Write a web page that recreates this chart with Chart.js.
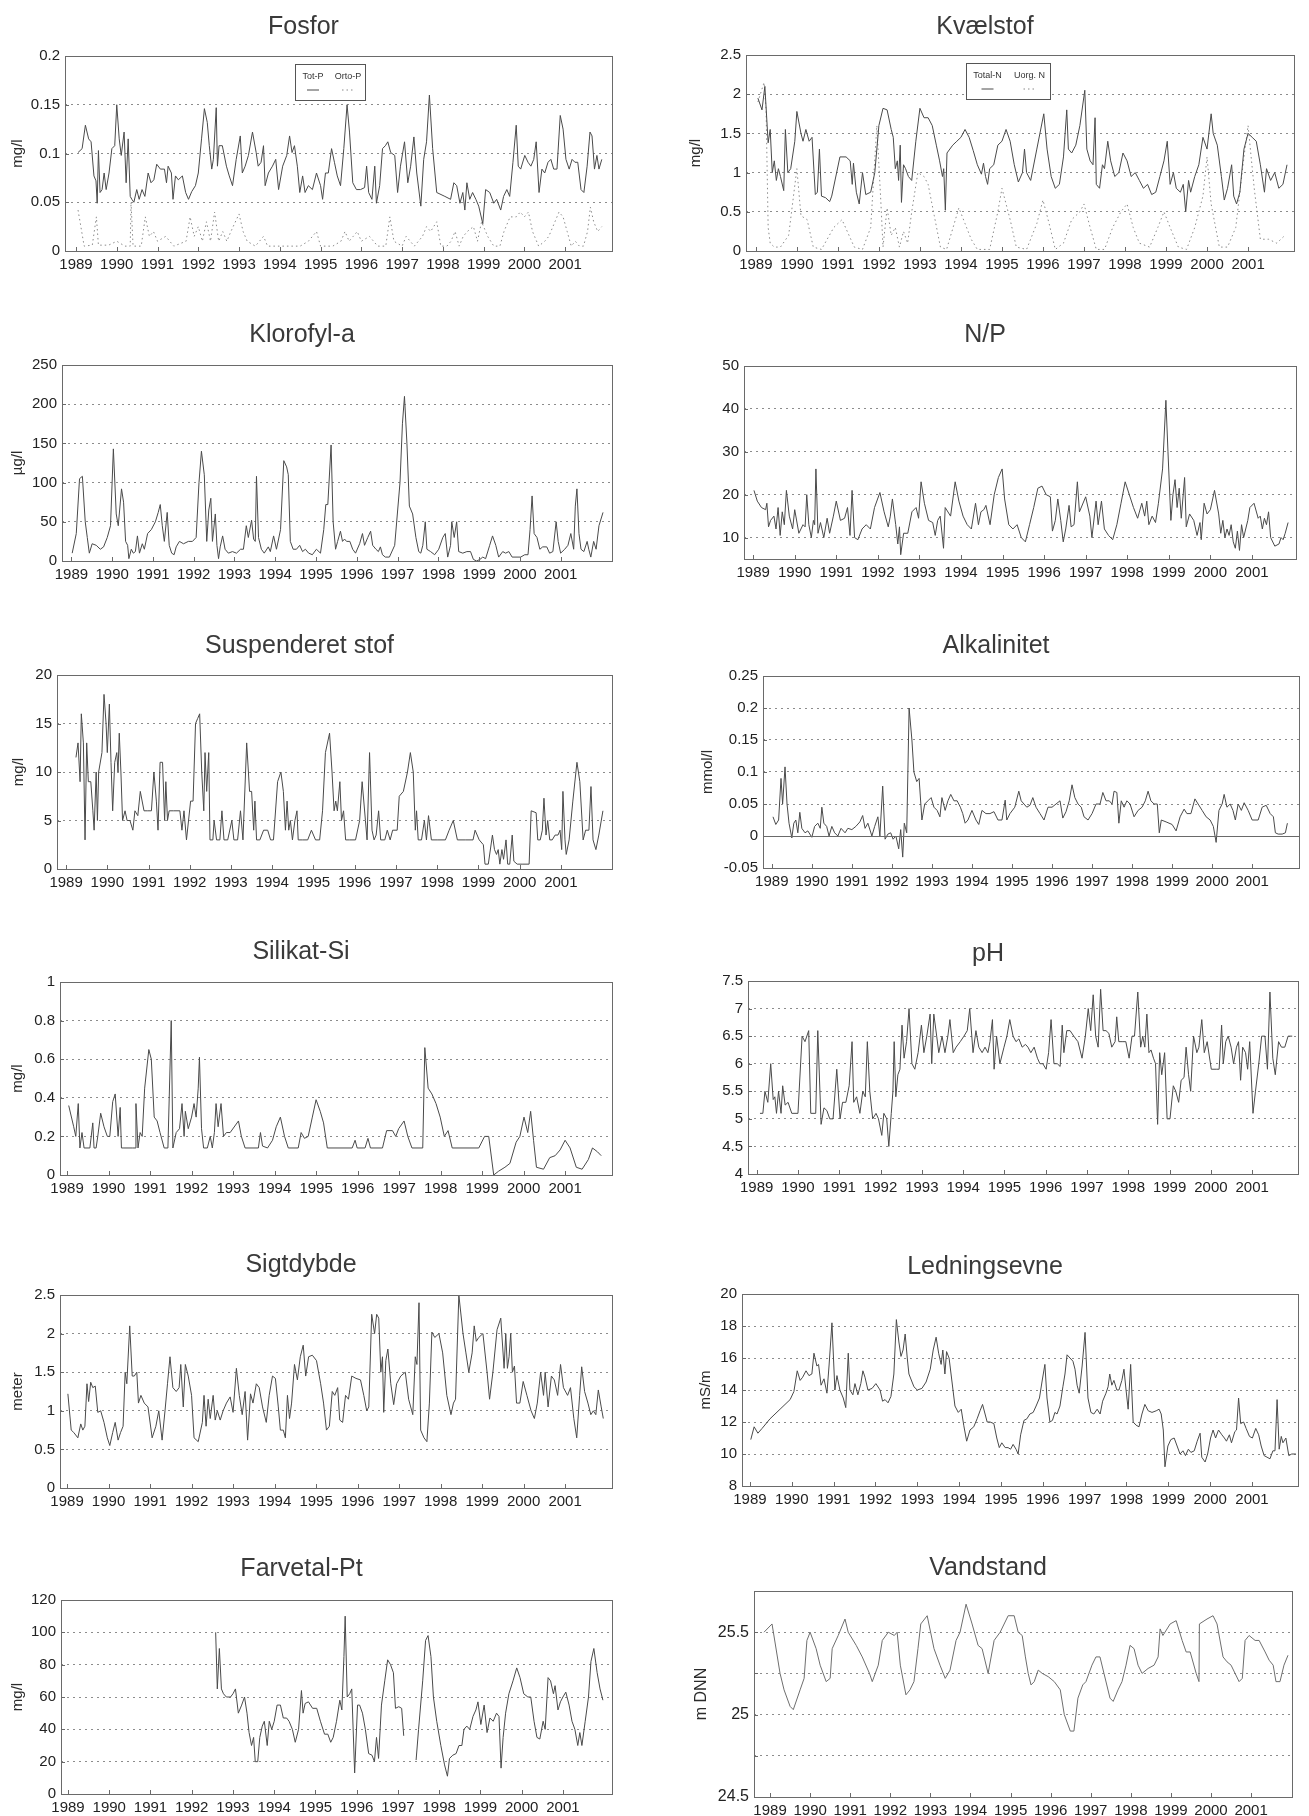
<!DOCTYPE html>
<html lang="da">
<head>
<meta charset="utf-8">
<title>Vandkemi 1989-2001</title>
<script src="https://cdn.jsdelivr.net/npm/chart.js@4.4.1/dist/chart.umd.min.js"></script>
<style>
  html, body { margin: 0; padding: 0; background: #fff; }
  #page { position: relative; width: 1309px; height: 1816px; overflow: hidden; background: #fff; }
  #page canvas { position: absolute; }
</style>
</head>
<body>
<div id="page"></div>
<script>
// Måleserier: [år (decimal), værdi]

const yearTicks = [1989, 1990, 1991, 1992, 1993, 1994, 1995, 1996, 1997, 1998, 1999, 2000, 2001];

const fosforTicks = [0, 0.05, 0.1, 0.15, 0.2];
const kvaelstofTicks = [0, 0.5, 1, 1.5, 2, 2.5];
const klorofylTicks = [0, 50, 100, 150, 200, 250];
const npTicks = [10, 20, 30, 40, 50];
const suspTicks = [0, 5, 10, 15, 20];
const alkTicks = [-0.05, 0, 0.05, 0.1, 0.15, 0.2, 0.25];
const silikatTicks = [0, 0.2, 0.4, 0.6, 0.8, 1];
const phTicks = [4, 4.5, 5, 5.5, 6, 6.5, 7, 7.5];
const sigtTicks = [0, 0.5, 1, 1.5, 2, 2.5];
const ledTicks = [8, 10, 12, 14, 16, 18, 20];
const farveTicks = [0, 20, 40, 60, 80, 100, 120];
const vandTicks = [24.5, 24.75, 25, 25.25, 25.5, 25.75];
const vandTickLabels = ['24.5', '', '25', '', '25.5', ''];

const totP = [[1989.05,0.101],[1989.15,0.105],[1989.23,0.129],[1989.31,0.115],[1989.37,0.112],[1989.44,0.077],[1989.49,0.072],[1989.52,0.049],[1989.55,0.103],[1989.59,0.06],[1989.64,0.063],[1989.69,0.08],[1989.74,0.063],[1989.81,0.08],[1989.88,0.105],[1989.95,0.108],[1990.0,0.15],[1990.06,0.115],[1990.11,0.098],[1990.18,0.122],[1990.23,0.07],[1990.28,0.115],[1990.33,0.056],[1990.37,0.053],[1990.42,0.05],[1990.49,0.063],[1990.55,0.053],[1990.62,0.063],[1990.69,0.056],[1990.77,0.08],[1990.84,0.07],[1990.91,0.073],[1990.98,0.089],[1991.07,0.084],[1991.17,0.084],[1991.22,0.07],[1991.26,0.087],[1991.34,0.08],[1991.38,0.053],[1991.44,0.077],[1991.51,0.073],[1991.61,0.077],[1991.69,0.06],[1991.76,0.053],[1991.84,0.061],[1991.93,0.067],[1992.0,0.08],[1992.08,0.115],[1992.15,0.146],[1992.22,0.132],[1992.27,0.108],[1992.33,0.084],[1992.37,0.094],[1992.44,0.147],[1992.47,0.087],[1992.51,0.108],[1992.59,0.108],[1992.69,0.087],[1992.76,0.077],[1992.84,0.067],[1992.93,0.094],[1993.03,0.118],[1993.08,0.08],[1993.15,0.087],[1993.23,0.098],[1993.33,0.122],[1993.42,0.101],[1993.47,0.087],[1993.54,0.091],[1993.6,0.108],[1993.64,0.067],[1993.72,0.08],[1993.82,0.087],[1993.9,0.094],[1993.97,0.063],[1994.07,0.087],[1994.17,0.098],[1994.24,0.118],[1994.3,0.101],[1994.36,0.108],[1994.43,0.087],[1994.49,0.06],[1994.56,0.077],[1994.62,0.06],[1994.7,0.067],[1994.8,0.063],[1994.9,0.08],[1995.0,0.067],[1995.05,0.053],[1995.12,0.08],[1995.19,0.08],[1995.27,0.105],[1995.34,0.091],[1995.41,0.077],[1995.49,0.067],[1995.57,0.105],[1995.65,0.15],[1995.71,0.122],[1995.79,0.07],[1995.88,0.063],[1995.98,0.063],[1996.08,0.065],[1996.13,0.087],[1996.18,0.06],[1996.26,0.053],[1996.33,0.087],[1996.37,0.049],[1996.45,0.067],[1996.52,0.105],[1996.59,0.108],[1996.65,0.112],[1996.72,0.101],[1996.82,0.098],[1996.89,0.06],[1996.96,0.087],[1997.06,0.112],[1997.14,0.07],[1997.21,0.087],[1997.29,0.117],[1997.36,0.08],[1997.46,0.046],[1997.53,0.094],[1997.6,0.112],[1997.67,0.16],[1997.75,0.105],[1997.85,0.06],[1998.05,0.056],[1998.19,0.053],[1998.27,0.07],[1998.34,0.067],[1998.42,0.049],[1998.49,0.06],[1998.54,0.042],[1998.59,0.07],[1998.66,0.053],[1998.73,0.06],[1998.81,0.053],[1998.88,0.046],[1998.98,0.028],[1999.05,0.063],[1999.15,0.06],[1999.25,0.049],[1999.32,0.053],[1999.42,0.042],[1999.49,0.056],[1999.57,0.063],[1999.64,0.056],[1999.72,0.091],[1999.8,0.129],[1999.85,0.087],[1999.91,0.084],[2000.01,0.098],[2000.09,0.091],[2000.16,0.087],[2000.23,0.094],[2000.29,0.112],[2000.36,0.06],[2000.43,0.084],[2000.5,0.08],[2000.58,0.091],[2000.65,0.094],[2000.72,0.084],[2000.8,0.084],[2000.88,0.139],[2000.95,0.125],[2001.02,0.094],[2001.1,0.084],[2001.17,0.094],[2001.24,0.091],[2001.31,0.091],[2001.39,0.063],[2001.46,0.06],[2001.54,0.087],[2001.61,0.122],[2001.66,0.118],[2001.72,0.084],[2001.78,0.098],[2001.83,0.084],[2001.9,0.094]];

const ortoP = [[1989.05,0.042],[1989.2,0.005],[1989.4,0.006],[1989.5,0.035],[1989.55,0.006],[1989.8,0.006],[1990.0,0.01],[1990.2,0.005],[1990.33,0.005],[1990.35,0.05],[1990.4,0.005],[1990.6,0.005],[1990.7,0.035],[1990.8,0.015],[1990.9,0.02],[1991.0,0.01],[1991.2,0.015],[1991.4,0.005],[1991.7,0.01],[1991.8,0.035],[1991.9,0.015],[1992.0,0.025],[1992.1,0.01],[1992.2,0.03],[1992.3,0.01],[1992.4,0.04],[1992.5,0.01],[1992.6,0.02],[1992.7,0.01],[1992.8,0.02],[1993.0,0.038],[1993.1,0.02],[1993.2,0.01],[1993.4,0.005],[1993.6,0.015],[1993.7,0.005],[1994.0,0.005],[1994.3,0.005],[1994.5,0.005],[1994.7,0.01],[1994.9,0.02],[1995.0,0.005],[1995.3,0.005],[1995.5,0.01],[1995.6,0.02],[1995.7,0.01],[1995.8,0.015],[1995.9,0.02],[1996.0,0.01],[1996.2,0.015],[1996.4,0.005],[1996.6,0.005],[1996.7,0.035],[1996.8,0.01],[1997.0,0.005],[1997.1,0.015],[1997.3,0.005],[1997.4,0.01],[1997.5,0.015],[1997.6,0.025],[1997.7,0.02],[1997.85,0.03],[1997.95,0.005],[1998.1,0.005],[1998.2,0.01],[1998.3,0.02],[1998.4,0.005],[1998.5,0.015],[1998.6,0.02],[1998.75,0.025],[1998.85,0.01],[1998.95,0.03],[1999.1,0.015],[1999.25,0.005],[1999.4,0.005],[1999.5,0.02],[1999.65,0.035],[1999.8,0.035],[1999.9,0.04],[2000.0,0.035],[2000.1,0.04],[2000.2,0.02],[2000.35,0.005],[2000.5,0.01],[2000.6,0.015],[2000.75,0.03],[2000.85,0.04],[2000.95,0.035],[2001.05,0.02],[2001.15,0.005],[2001.25,0.01],[2001.35,0.005],[2001.45,0.005],[2001.55,0.02],[2001.62,0.045],[2001.7,0.03],[2001.8,0.02],[2001.9,0.025]];

const totalN = [[1989.05,1.95],[1989.15,1.8],[1989.22,2.1],[1989.3,1.38],[1989.35,1.55],[1989.4,1.0],[1989.45,1.15],[1989.5,0.9],[1989.55,1.05],[1989.6,0.95],[1989.68,0.77],[1989.72,1.55],[1989.78,1.0],[1989.85,1.05],[1989.95,1.4],[1990.0,1.78],[1990.1,1.5],[1990.15,1.4],[1990.22,1.55],[1990.3,1.4],[1990.37,1.45],[1990.45,0.72],[1990.5,0.75],[1990.55,1.3],[1990.6,0.7],[1990.7,0.68],[1990.8,0.63],[1990.85,0.7],[1991.05,1.2],[1991.2,1.2],[1991.3,1.15],[1991.35,0.85],[1991.38,1.12],[1991.45,0.75],[1991.52,0.6],[1991.6,1.0],[1991.68,0.72],[1991.8,0.75],[1991.9,1.0],[1992.0,1.6],[1992.1,1.82],[1992.2,1.8],[1992.3,1.55],[1992.35,1.45],[1992.4,1.05],[1992.45,1.15],[1992.48,0.9],[1992.52,1.35],[1992.55,0.62],[1992.6,1.1],[1992.65,1.05],[1992.72,0.95],[1992.8,0.9],[1992.9,1.4],[1993.0,1.82],[1993.1,1.7],[1993.2,1.7],[1993.3,1.6],[1993.4,1.35],[1993.48,1.15],[1993.55,0.95],[1993.58,1.05],[1993.62,0.52],[1993.66,1.25],[1993.8,1.35],[1993.9,1.4],[1994.0,1.45],[1994.1,1.55],[1994.2,1.45],[1994.3,1.28],[1994.4,1.1],[1994.5,0.98],[1994.55,1.12],[1994.6,0.95],[1994.65,0.85],[1994.7,1.05],[1994.8,1.1],[1994.9,1.35],[1995.0,1.4],[1995.1,1.55],[1995.2,1.4],[1995.3,1.1],[1995.4,0.88],[1995.5,1.0],[1995.55,1.3],[1995.6,1.0],[1995.7,0.9],[1995.85,1.3],[1996.02,1.75],[1996.1,1.3],[1996.2,0.95],[1996.3,0.8],[1996.4,0.85],[1996.5,1.2],[1996.58,1.8],[1996.62,1.3],[1996.7,1.25],[1996.8,1.35],[1996.9,1.6],[1997.02,2.05],[1997.07,1.3],[1997.15,1.15],[1997.22,1.1],[1997.27,1.7],[1997.3,0.85],[1997.38,0.8],[1997.45,1.1],[1997.5,1.05],[1997.58,1.4],[1997.65,1.15],[1997.75,0.95],[1997.85,1.0],[1997.95,1.25],[1998.05,1.15],[1998.15,0.95],[1998.25,1.0],[1998.35,0.9],[1998.45,0.8],[1998.55,0.85],[1998.65,0.72],[1998.75,0.75],[1998.85,0.95],[1998.95,1.15],[1999.03,1.4],[1999.1,0.85],[1999.18,1.0],[1999.25,0.8],[1999.35,0.75],[1999.42,0.85],[1999.48,0.5],[1999.55,0.9],[1999.6,0.75],[1999.7,0.95],[1999.8,1.1],[1999.9,1.45],[2000.0,1.3],[2000.1,1.75],[2000.15,1.5],[2000.25,1.35],[2000.35,0.95],[2000.42,0.65],[2000.5,0.8],[2000.6,1.1],[2000.65,0.7],[2000.72,0.6],[2000.8,0.75],[2000.9,1.3],[2001.0,1.5],[2001.1,1.45],[2001.2,1.4],[2001.3,1.1],[2001.4,0.75],[2001.45,1.05],[2001.55,0.9],[2001.65,1.0],[2001.75,0.8],[2001.85,0.85],[2001.95,1.1]];

const uorgN = [[1989.05,1.9],[1989.2,2.15],[1989.25,1.8],[1989.3,0.3],[1989.35,0.1],[1989.45,0.05],[1989.6,0.05],[1989.8,0.2],[1990.0,1.05],[1990.1,0.45],[1990.25,0.4],[1990.4,0.05],[1990.6,0.02],[1990.9,0.3],[1991.1,0.4],[1991.4,0.05],[1991.6,0.02],[1991.8,0.3],[1991.95,1.6],[1992.05,0.6],[1992.1,0.05],[1992.2,0.55],[1992.3,0.2],[1992.4,0.3],[1992.5,0.05],[1992.6,0.25],[1992.7,0.1],[1992.8,0.5],[1992.95,1.0],[1993.1,0.95],[1993.2,0.85],[1993.35,0.45],[1993.5,0.05],[1993.65,0.02],[1993.95,0.55],[1994.1,0.35],[1994.25,0.15],[1994.4,0.02],[1994.7,0.02],[1994.9,0.5],[1995.0,0.8],[1995.2,0.4],[1995.35,0.05],[1995.6,0.02],[1995.85,0.35],[1996.0,0.65],[1996.15,0.35],[1996.3,0.02],[1996.5,0.1],[1996.7,0.4],[1996.9,0.5],[1997.0,0.6],[1997.15,0.3],[1997.3,0.02],[1997.5,0.02],[1997.7,0.3],[1997.9,0.5],[1998.05,0.6],[1998.2,0.3],[1998.35,0.1],[1998.6,0.05],[1998.8,0.3],[1998.95,0.5],[1999.1,0.3],[1999.3,0.05],[1999.5,0.02],[1999.7,0.3],[1999.9,0.7],[2000.0,1.2],[2000.1,0.6],[2000.3,0.05],[2000.5,0.05],[2000.7,0.3],[2000.9,1.2],[2001.0,1.6],[2001.15,0.8],[2001.3,0.15],[2001.5,0.15],[2001.7,0.1],[2001.9,0.2]];

const klorofyl = [[1989.02,10],[1989.12,35],[1989.2,105],[1989.27,108],[1989.34,50],[1989.39,30],[1989.44,10],[1989.51,22],[1989.61,20],[1989.71,15],[1989.79,18],[1989.88,30],[1989.96,45],[1990.03,143],[1990.1,60],[1990.15,45],[1990.23,92],[1990.28,75],[1990.33,25],[1990.38,20],[1990.41,3],[1990.47,15],[1990.52,10],[1990.57,12],[1990.62,32],[1990.67,10],[1990.74,22],[1990.79,15],[1990.87,35],[1990.96,40],[1991.06,50],[1991.13,62],[1991.18,72],[1991.23,45],[1991.28,25],[1991.35,62],[1991.4,20],[1991.46,10],[1991.52,8],[1991.57,18],[1991.65,25],[1991.75,22],[1991.87,25],[1991.97,25],[1992.06,30],[1992.13,100],[1992.19,140],[1992.26,110],[1992.32,25],[1992.37,65],[1992.42,80],[1992.46,25],[1992.53,60],[1992.57,20],[1992.61,3],[1992.65,18],[1992.71,32],[1992.77,15],[1992.85,10],[1992.95,12],[1993.05,10],[1993.15,15],[1993.22,15],[1993.29,45],[1993.34,30],[1993.42,52],[1993.47,28],[1993.51,25],[1993.54,108],[1993.59,30],[1993.66,15],[1993.73,10],[1993.83,18],[1993.88,12],[1993.96,32],[1994.03,15],[1994.13,40],[1994.21,128],[1994.28,120],[1994.32,110],[1994.37,25],[1994.44,15],[1994.52,15],[1994.6,20],[1994.67,12],[1994.74,15],[1994.82,10],[1994.91,8],[1995.01,15],[1995.11,10],[1995.19,40],[1995.24,72],[1995.29,72],[1995.37,148],[1995.42,50],[1995.48,15],[1995.53,25],[1995.6,38],[1995.65,25],[1995.7,28],[1995.75,25],[1995.83,25],[1995.9,15],[1995.97,10],[1996.07,22],[1996.14,35],[1996.19,20],[1996.27,30],[1996.34,38],[1996.39,20],[1996.47,15],[1996.53,12],[1996.58,18],[1996.63,8],[1996.7,5],[1996.8,5],[1996.93,20],[1997.06,100],[1997.12,175],[1997.17,210],[1997.23,150],[1997.29,70],[1997.37,60],[1997.45,30],[1997.52,12],[1997.57,10],[1997.62,20],[1997.68,50],[1997.72,15],[1997.81,12],[1997.91,8],[1998.01,15],[1998.11,30],[1998.17,35],[1998.23,5],[1998.3,20],[1998.33,50],[1998.39,30],[1998.45,50],[1998.5,12],[1998.6,10],[1998.7,12],[1998.79,12],[1998.86,2],[1998.94,0],[1999.02,2],[1999.09,5],[1999.16,3],[1999.26,20],[1999.33,32],[1999.41,20],[1999.48,5],[1999.58,12],[1999.65,10],[1999.73,12],[1999.81,5],[1999.93,5],[2000.02,5],[2000.12,8],[2000.2,8],[2000.25,40],[2000.3,83],[2000.35,35],[2000.42,30],[2000.49,15],[2000.56,18],[2000.66,18],[2000.73,10],[2000.81,12],[2000.89,50],[2000.94,25],[2001.0,10],[2001.1,15],[2001.18,20],[2001.25,35],[2001.32,15],[2001.36,70],[2001.4,92],[2001.45,35],[2001.5,15],[2001.57,12],[2001.65,25],[2001.69,15],[2001.74,5],[2001.81,25],[2001.87,15],[2001.94,45],[2002.04,62]];

const npRatio = [[1989.02,21],[1989.1,18.5],[1989.2,17],[1989.3,16.5],[1989.33,18],[1989.37,12.5],[1989.42,14],[1989.5,15],[1989.55,12],[1989.6,17],[1989.65,10.5],[1989.7,16],[1989.75,13],[1989.8,21],[1989.87,15],[1989.95,12],[1990.0,16.5],[1990.1,11],[1990.2,13],[1990.25,12.5],[1990.29,20],[1990.34,13],[1990.4,10],[1990.45,14],[1990.48,13],[1990.51,26],[1990.56,11],[1990.62,13.5],[1990.7,10],[1990.78,14.5],[1990.84,11],[1990.93,15],[1991.0,18.5],[1991.1,14],[1991.2,14.5],[1991.27,17],[1991.33,10.5],[1991.38,21],[1991.44,10],[1991.52,9.5],[1991.62,12],[1991.72,13],[1991.82,12],[1991.92,17],[1992.05,20.5],[1992.15,16],[1992.25,12.5],[1992.3,15],[1992.35,19],[1992.43,13],[1992.48,8.5],[1992.52,12.5],[1992.55,6],[1992.62,11],[1992.72,11],[1992.82,16],[1992.92,17],[1992.98,14.5],[1993.04,23],[1993.12,18],[1993.22,14],[1993.32,13.5],[1993.38,10.5],[1993.44,14],[1993.5,15],[1993.58,7.5],[1993.62,17],[1993.75,15],[1993.86,23],[1993.95,18.5],[1994.05,15],[1994.15,13],[1994.25,12],[1994.35,18],[1994.42,13],[1994.48,16],[1994.55,16.5],[1994.6,17.5],[1994.7,13],[1994.8,20],[1994.9,24],[1994.99,26],[1995.05,19],[1995.15,13],[1995.25,12],[1995.35,13],[1995.45,10],[1995.55,9],[1995.65,13],[1995.75,17],[1995.85,21.5],[1995.95,22],[1996.05,20],[1996.15,19.5],[1996.2,11.5],[1996.27,14],[1996.33,19],[1996.4,14],[1996.46,9],[1996.52,12],[1996.6,17.5],[1996.65,12.5],[1996.72,13],[1996.8,23],[1996.85,16],[1997.0,19.5],[1997.1,15],[1997.15,10],[1997.25,18.5],[1997.3,13],[1997.38,18.5],[1997.45,12],[1997.55,10.5],[1997.65,9.5],[1997.75,13],[1997.85,18],[1997.95,23],[1998.05,20],[1998.15,17],[1998.25,14.5],[1998.35,18],[1998.42,15],[1998.47,18.5],[1998.52,13],[1998.6,15],[1998.68,13.5],[1998.75,18],[1998.85,26],[1998.93,42],[1998.98,30],[1999.05,14],[1999.1,20],[1999.15,23.5],[1999.2,17],[1999.25,21.5],[1999.3,14.5],[1999.38,24],[1999.42,12.5],[1999.5,15.5],[1999.6,14],[1999.68,10.5],[1999.75,13.5],[1999.78,9.5],[1999.85,18],[1999.92,15.5],[2000.0,16.5],[2000.1,21],[2000.2,15.5],[2000.25,11],[2000.3,14],[2000.35,10],[2000.4,12],[2000.45,10.5],[2000.5,13],[2000.55,9],[2000.6,7.5],[2000.65,11.5],[2000.7,7],[2000.75,13],[2000.8,10],[2000.9,14],[2000.95,17],[2001.05,18],[2001.15,14.5],[2001.2,15],[2001.25,12],[2001.3,14.5],[2001.35,13],[2001.4,16],[2001.45,10],[2001.55,8],[2001.65,8.5],[2001.7,10],[2001.75,9.5],[2001.8,11],[2001.87,13.5]];

const suspStof = [[1989.24,11.5],[1989.29,13],[1989.34,9],[1989.37,16],[1989.42,13],[1989.46,3],[1989.5,13],[1989.54,9],[1989.6,9],[1989.65,6],[1989.68,4],[1989.73,10],[1989.76,5],[1989.79,10],[1989.87,12],[1989.92,18],[1989.97,15],[1990.0,12],[1990.05,17],[1990.09,11],[1990.13,6],[1990.18,11],[1990.23,12],[1990.26,10],[1990.29,14],[1990.33,10],[1990.37,5],[1990.43,6],[1990.48,5],[1990.55,5],[1990.62,4],[1990.67,6],[1990.74,5.5],[1990.8,8],[1990.89,6],[1990.98,6],[1991.07,6],[1991.13,10],[1991.19,7],[1991.23,4],[1991.28,11],[1991.34,11],[1991.39,5],[1991.42,9],[1991.46,5],[1991.5,6],[1991.61,6],[1991.76,6],[1991.81,4],[1991.86,6],[1991.92,3],[1992.02,7],[1992.08,7],[1992.14,15],[1992.19,15.5],[1992.24,16],[1992.29,10],[1992.34,6],[1992.37,12],[1992.41,8],[1992.46,12],[1992.49,3],[1992.56,3],[1992.59,5],[1992.65,3],[1992.73,3],[1992.78,6],[1992.83,3],[1992.92,3],[1993.02,5],[1993.07,3],[1993.16,3],[1993.23,6],[1993.29,3],[1993.38,13],[1993.45,8],[1993.5,8],[1993.55,4],[1993.58,7],[1993.62,3],[1993.7,3],[1993.79,4],[1993.89,4],[1993.96,3],[1994.03,3],[1994.13,9],[1994.21,10],[1994.27,8],[1994.32,4],[1994.36,7],[1994.4,4],[1994.44,5],[1994.49,3],[1994.55,5],[1994.6,6],[1994.63,3],[1994.73,3],[1994.86,3],[1994.95,4],[1995.05,3],[1995.15,3],[1995.22,6],[1995.29,12],[1995.39,14],[1995.45,10],[1995.5,6],[1995.54,7],[1995.58,6],[1995.64,9],[1995.68,5],[1995.73,6],[1995.78,3],[1995.87,3],[1996.02,3],[1996.12,5],[1996.18,9],[1996.26,5],[1996.3,3],[1996.36,12],[1996.42,4],[1996.47,3],[1996.52,3.5],[1996.58,6],[1996.63,3],[1996.73,3],[1996.79,4],[1996.86,3],[1996.92,4],[1997.03,4],[1997.08,7.5],[1997.18,8],[1997.28,10],[1997.35,12],[1997.42,10],[1997.47,4],[1997.5,6],[1997.54,3],[1997.62,3],[1997.69,5],[1997.74,3],[1997.79,5.5],[1997.86,3],[1998.0,3],[1998.2,3],[1998.29,4],[1998.39,5],[1998.49,3],[1998.68,3],[1998.87,3],[1998.92,4],[1999.02,3],[1999.12,2.5],[1999.16,0.5],[1999.24,0.5],[1999.34,3.5],[1999.39,2],[1999.44,1.5],[1999.48,2],[1999.52,0.5],[1999.57,2],[1999.61,1],[1999.67,3],[1999.71,0.5],[1999.76,0.5],[1999.82,3.5],[1999.86,0.8],[1999.94,0.5],[2000.08,0.5],[2000.23,0.5],[2000.28,6],[2000.4,5.8],[2000.44,3],[2000.5,3],[2000.55,4],[2000.59,7.3],[2000.64,3.5],[2000.68,5],[2000.73,3],[2000.79,3],[2000.86,3.5],[2000.93,3.5],[2000.98,4],[2001.02,2],[2001.05,8],[2001.1,3],[2001.13,1.5],[2001.2,3],[2001.29,7],[2001.39,11],[2001.46,9],[2001.54,3],[2001.6,4],[2001.68,4],[2001.73,8.5],[2001.78,3],[2001.85,2],[2001.92,3.5],[2002.02,6]];

const alkalinitet = [[1989.03,0.03],[1989.1,0.018],[1989.17,0.025],[1989.23,0.09],[1989.27,0.05],[1989.33,0.108],[1989.38,0.05],[1989.43,0.02],[1989.5,-0.003],[1989.55,0.02],[1989.6,0.025],[1989.65,0.005],[1989.7,0.037],[1989.75,0.012],[1989.83,0.005],[1989.9,0.008],[1990.0,-0.002],[1990.07,0.015],[1990.15,0.02],[1990.21,0.012],[1990.25,0.045],[1990.3,0.02],[1990.37,0.015],[1990.43,0.0],[1990.5,0.015],[1990.57,0.005],[1990.65,0.0],[1990.73,0.012],[1990.83,0.005],[1990.9,0.012],[1991.0,0.01],[1991.1,0.015],[1991.2,0.022],[1991.27,0.032],[1991.33,0.012],[1991.4,0.02],[1991.5,0.0],[1991.57,0.015],[1991.65,0.03],[1991.7,0.0],[1991.77,0.078],[1991.83,-0.005],[1991.9,0.003],[1991.97,0.005],[1992.03,-0.005],[1992.1,0.0],[1992.17,-0.02],[1992.22,0.01],[1992.27,-0.033],[1992.31,0.02],[1992.37,0.005],[1992.43,0.2],[1992.5,0.15],[1992.55,0.1],[1992.62,0.085],[1992.68,0.09],[1992.75,0.025],[1992.82,0.05],[1992.9,0.055],[1992.98,0.06],[1993.05,0.045],[1993.13,0.04],[1993.2,0.03],[1993.25,0.06],[1993.33,0.04],[1993.4,0.055],[1993.47,0.065],[1993.55,0.055],[1993.63,0.055],[1993.71,0.045],[1993.77,0.035],[1993.83,0.02],[1993.9,0.025],[1994.0,0.04],[1994.1,0.025],[1994.17,0.018],[1994.25,0.04],[1994.35,0.035],[1994.45,0.035],[1994.55,0.038],[1994.65,0.025],[1994.75,0.025],[1994.83,0.056],[1994.87,0.025],[1994.95,0.035],[1995.07,0.045],[1995.17,0.07],[1995.23,0.055],[1995.3,0.05],[1995.37,0.045],[1995.45,0.048],[1995.52,0.06],[1995.6,0.045],[1995.7,0.035],[1995.8,0.025],[1995.9,0.045],[1996.0,0.045],[1996.1,0.05],[1996.2,0.055],[1996.27,0.028],[1996.35,0.038],[1996.43,0.055],[1996.5,0.08],[1996.57,0.06],[1996.65,0.05],[1996.73,0.045],[1996.8,0.03],[1996.9,0.025],[1997.0,0.035],[1997.1,0.05],[1997.2,0.05],[1997.27,0.068],[1997.35,0.055],[1997.43,0.055],[1997.5,0.05],[1997.55,0.07],[1997.62,0.068],[1997.67,0.02],[1997.73,0.055],[1997.8,0.045],[1997.87,0.055],[1997.95,0.05],[1998.05,0.03],[1998.15,0.04],[1998.25,0.045],[1998.33,0.055],[1998.4,0.07],[1998.47,0.055],[1998.55,0.05],[1998.63,0.05],[1998.68,0.005],[1998.73,0.025],[1998.85,0.022],[1999.0,0.018],[1999.1,0.008],[1999.2,0.03],[1999.3,0.042],[1999.37,0.035],[1999.47,0.035],[1999.57,0.058],[1999.65,0.05],[1999.75,0.04],[1999.85,0.03],[1999.95,0.025],[2000.03,0.015],[2000.1,-0.01],[2000.17,0.04],[2000.25,0.05],[2000.3,0.065],[2000.37,0.045],[2000.45,0.05],[2000.52,0.04],[2000.58,0.025],[2000.65,0.05],[2000.73,0.04],[2000.8,0.052],[2000.9,0.04],[2001.0,0.025],[2001.15,0.025],[2001.25,0.045],[2001.35,0.048],[2001.45,0.035],[2001.53,0.03],[2001.58,0.005],[2001.65,0.003],[2001.75,0.003],[2001.83,0.005],[2001.88,0.02]];

const silikat = [[1989.04,0.36],[1989.16,0.25],[1989.21,0.2],[1989.27,0.37],[1989.31,0.14],[1989.36,0.22],[1989.41,0.14],[1989.55,0.14],[1989.62,0.27],[1989.65,0.14],[1989.7,0.14],[1989.74,0.2],[1989.81,0.32],[1989.89,0.25],[1989.97,0.2],[1990.03,0.2],[1990.1,0.38],[1990.16,0.42],[1990.23,0.2],[1990.28,0.35],[1990.31,0.14],[1990.37,0.14],[1990.57,0.14],[1990.64,0.14],[1990.66,0.37],[1990.71,0.14],[1990.76,0.22],[1990.81,0.2],[1990.87,0.45],[1990.97,0.65],[1991.03,0.6],[1991.1,0.3],[1991.17,0.28],[1991.24,0.22],[1991.34,0.14],[1991.43,0.14],[1991.51,0.8],[1991.55,0.14],[1991.63,0.22],[1991.71,0.24],[1991.77,0.37],[1991.82,0.2],[1991.85,0.33],[1991.92,0.24],[1992.0,0.3],[1992.06,0.37],[1992.11,0.3],[1992.16,0.45],[1992.19,0.61],[1992.24,0.24],[1992.29,0.14],[1992.38,0.14],[1992.45,0.2],[1992.5,0.14],[1992.55,0.22],[1992.59,0.37],[1992.64,0.25],[1992.71,0.37],[1992.77,0.2],[1992.84,0.22],[1992.93,0.22],[1993.13,0.28],[1993.2,0.2],[1993.29,0.14],[1993.61,0.14],[1993.66,0.22],[1993.71,0.15],[1993.83,0.14],[1993.95,0.18],[1994.04,0.25],[1994.14,0.3],[1994.24,0.2],[1994.33,0.14],[1994.57,0.14],[1994.64,0.22],[1994.72,0.19],[1994.81,0.2],[1994.91,0.3],[1995.0,0.39],[1995.1,0.33],[1995.18,0.27],[1995.27,0.14],[1995.87,0.14],[1995.94,0.18],[1995.99,0.14],[1996.18,0.14],[1996.25,0.19],[1996.31,0.14],[1996.6,0.14],[1996.7,0.23],[1996.84,0.23],[1996.92,0.2],[1996.99,0.24],[1997.12,0.28],[1997.21,0.2],[1997.31,0.14],[1997.57,0.14],[1997.62,0.66],[1997.7,0.45],[1997.79,0.42],[1997.89,0.37],[1997.99,0.3],[1998.09,0.2],[1998.18,0.23],[1998.28,0.14],[1998.92,0.14],[1999.06,0.2],[1999.16,0.2],[1999.28,0.0],[1999.4,0.02],[1999.55,0.04],[1999.67,0.06],[1999.82,0.17],[1999.91,0.2],[2000.01,0.3],[2000.1,0.22],[2000.17,0.33],[2000.24,0.18],[2000.31,0.04],[2000.48,0.03],[2000.63,0.09],[2000.76,0.1],[2000.88,0.13],[2001.0,0.18],[2001.12,0.14],[2001.27,0.04],[2001.41,0.03],[2001.56,0.08],[2001.66,0.14],[2001.78,0.12],[2001.87,0.1]];

const ph = [[1989.08,5.1],[1989.15,5.1],[1989.2,5.5],[1989.27,5.3],[1989.34,6.0],[1989.4,5.35],[1989.44,5.4],[1989.48,5.1],[1989.53,5.5],[1989.59,5.1],[1989.63,5.6],[1989.69,5.25],[1989.76,5.3],[1989.85,5.1],[1990.0,5.1],[1990.1,6.5],[1990.17,6.4],[1990.26,6.6],[1990.31,5.1],[1990.43,5.1],[1990.48,6.6],[1990.56,4.9],[1990.63,5.2],[1990.7,5.15],[1990.77,5.0],[1990.85,5.0],[1990.94,5.9],[1991.02,5.0],[1991.08,5.3],[1991.16,5.3],[1991.24,5.6],[1991.31,6.4],[1991.35,5.3],[1991.42,5.4],[1991.5,5.1],[1991.57,5.5],[1991.63,5.4],[1991.68,6.4],[1991.74,5.5],[1991.81,5.0],[1991.89,5.1],[1991.95,5.0],[1992.03,4.7],[1992.08,5.1],[1992.15,5.0],[1992.2,4.5],[1992.26,5.1],[1992.3,5.5],[1992.33,6.4],[1992.37,5.4],[1992.42,5.8],[1992.47,5.9],[1992.52,6.7],[1992.57,6.1],[1992.63,6.4],[1992.69,7.0],[1992.76,6.0],[1992.83,5.9],[1992.91,6.2],[1992.99,6.7],[1993.05,6.2],[1993.12,6.5],[1993.2,6.9],[1993.24,6.0],[1993.29,6.9],[1993.36,6.5],[1993.41,6.2],[1993.49,6.5],[1993.56,6.2],[1993.63,6.5],[1993.68,6.8],[1993.76,6.2],[1993.83,6.3],[1993.93,6.4],[1994.02,6.5],[1994.1,6.6],[1994.16,7.0],[1994.24,6.2],[1994.31,6.6],[1994.38,6.3],[1994.46,6.2],[1994.53,6.3],[1994.6,6.2],[1994.65,6.4],[1994.71,6.8],[1994.75,5.9],[1994.81,6.5],[1994.89,6.0],[1994.99,6.3],[1995.06,6.5],[1995.13,6.8],[1995.21,6.5],[1995.28,6.4],[1995.35,6.45],[1995.43,6.3],[1995.51,6.35],[1995.57,6.3],[1995.64,6.2],[1995.72,6.3],[1995.8,6.1],[1995.86,6.0],[1995.93,6.0],[1996.01,5.9],[1996.07,6.2],[1996.13,6.8],[1996.2,6.0],[1996.28,6.0],[1996.35,5.95],[1996.4,6.7],[1996.44,6.2],[1996.51,6.6],[1996.59,6.6],[1996.68,6.5],[1996.78,6.4],[1996.88,6.1],[1996.96,6.5],[1997.03,7.0],[1997.09,6.6],[1997.15,7.25],[1997.21,6.5],[1997.27,6.3],[1997.33,7.35],[1997.39,6.6],[1997.46,6.6],[1997.53,6.55],[1997.6,6.3],[1997.68,6.4],[1997.72,6.85],[1997.77,6.4],[1997.85,6.4],[1997.94,6.4],[1998.02,6.1],[1998.09,6.5],[1998.15,6.5],[1998.23,7.3],[1998.3,6.3],[1998.35,6.5],[1998.4,6.3],[1998.45,6.9],[1998.5,6.2],[1998.55,6.25],[1998.61,6.1],[1998.66,6.0],[1998.71,4.9],[1998.76,6.2],[1998.81,5.8],[1998.88,6.2],[1998.94,5.0],[1999.01,5.0],[1999.09,5.6],[1999.15,5.5],[1999.22,5.3],[1999.28,5.7],[1999.35,5.75],[1999.4,6.3],[1999.46,5.8],[1999.51,5.5],[1999.58,6.5],[1999.66,6.2],[1999.71,6.3],[1999.78,6.8],[1999.84,6.2],[1999.91,6.4],[2000.01,5.9],[2000.13,5.9],[2000.2,5.9],[2000.26,6.7],[2000.3,6.0],[2000.36,6.4],[2000.42,6.5],[2000.49,6.3],[2000.55,6.0],[2000.62,6.3],[2000.67,6.4],[2000.72,5.7],[2000.77,6.3],[2000.84,6.2],[2000.89,5.9],[2000.94,6.4],[2001.02,5.1],[2001.08,5.5],[2001.16,6.0],[2001.23,6.5],[2001.31,6.5],[2001.37,5.9],[2001.43,7.3],[2001.5,6.1],[2001.56,5.8],[2001.64,6.4],[2001.71,6.3],[2001.79,6.3],[2001.87,6.5],[2001.97,6.5]];

const sigtdybde = [[1989.02,1.22],[1989.1,0.75],[1989.16,0.72],[1989.26,0.65],[1989.33,0.83],[1989.38,0.75],[1989.43,0.8],[1989.48,1.35],[1989.52,1.12],[1989.57,1.37],[1989.62,1.3],[1989.68,1.32],[1989.74,0.98],[1989.81,1.0],[1989.89,0.85],[1989.97,0.65],[1990.03,0.55],[1990.1,0.72],[1990.16,0.85],[1990.23,0.62],[1990.29,0.72],[1990.35,0.8],[1990.4,1.5],[1990.44,1.35],[1990.51,2.1],[1990.57,1.45],[1990.62,1.45],[1990.68,1.5],[1990.72,1.1],[1990.78,1.2],[1990.86,1.1],[1990.95,1.05],[1991.05,0.65],[1991.14,0.8],[1991.21,1.0],[1991.29,0.62],[1991.36,1.0],[1991.42,1.35],[1991.48,1.7],[1991.55,1.3],[1991.63,1.25],[1991.7,1.3],[1991.74,1.6],[1991.8,1.05],[1991.85,1.6],[1991.92,1.45],[1992.0,1.2],[1992.06,0.65],[1992.16,0.6],[1992.26,0.85],[1992.3,1.2],[1992.35,0.8],[1992.4,1.15],[1992.45,0.9],[1992.52,1.2],[1992.57,0.88],[1992.62,1.0],[1992.69,0.88],[1992.76,1.0],[1992.84,1.1],[1992.93,1.18],[1993.0,0.98],[1993.08,1.55],[1993.15,1.2],[1993.22,0.95],[1993.29,1.25],[1993.35,0.62],[1993.42,1.22],[1993.48,1.1],[1993.56,1.35],[1993.63,1.3],[1993.71,1.05],[1993.8,0.85],[1993.87,1.2],[1993.95,1.45],[1994.02,1.42],[1994.09,1.05],[1994.14,0.75],[1994.21,0.75],[1994.26,0.65],[1994.31,1.2],[1994.36,0.9],[1994.41,1.1],[1994.48,1.6],[1994.55,1.4],[1994.62,1.7],[1994.69,1.85],[1994.75,1.45],[1994.82,1.7],[1994.91,1.72],[1995.01,1.65],[1995.11,1.35],[1995.18,1.1],[1995.25,0.75],[1995.32,0.8],[1995.39,1.25],[1995.45,1.2],[1995.52,1.3],[1995.57,0.88],[1995.64,0.85],[1995.71,1.2],[1995.78,1.15],[1995.86,1.45],[1995.96,1.42],[1996.07,1.4],[1996.15,1.2],[1996.22,1.0],[1996.27,1.05],[1996.34,2.25],[1996.41,2.0],[1996.46,2.25],[1996.51,2.2],[1996.56,1.5],[1996.6,1.7],[1996.63,0.98],[1996.68,1.65],[1996.73,1.8],[1996.8,1.35],[1996.87,1.08],[1996.94,1.35],[1997.04,1.45],[1997.15,1.5],[1997.23,1.15],[1997.33,0.95],[1997.39,1.7],[1997.43,1.6],[1997.48,2.4],[1997.52,0.75],[1997.6,0.65],[1997.67,0.6],[1997.73,1.1],[1997.79,2.02],[1997.86,1.95],[1997.96,2.0],[1998.05,1.75],[1998.15,1.2],[1998.25,0.95],[1998.31,1.1],[1998.36,1.15],[1998.44,2.5],[1998.54,2.0],[1998.61,1.75],[1998.68,1.5],[1998.76,1.75],[1998.81,2.1],[1998.86,1.9],[1998.92,1.95],[1999.02,2.0],[1999.12,1.5],[1999.18,1.15],[1999.26,1.5],[1999.36,2.05],[1999.45,2.2],[1999.53,1.55],[1999.57,2.0],[1999.61,1.55],[1999.65,1.7],[1999.69,2.0],[1999.73,1.5],[1999.78,1.58],[1999.83,1.1],[1999.91,1.1],[1999.99,1.38],[2000.08,1.2],[2000.18,1.0],[2000.26,0.9],[2000.33,1.1],[2000.41,1.5],[2000.48,1.2],[2000.52,1.5],[2000.59,1.05],[2000.67,1.45],[2000.74,1.4],[2000.82,1.2],[2000.89,1.6],[2000.96,1.3],[2001.06,1.2],[2001.13,1.3],[2001.21,0.9],[2001.28,0.65],[2001.35,1.2],[2001.4,1.57],[2001.47,1.25],[2001.55,1.1],[2001.62,0.95],[2001.68,1.0],[2001.74,0.95],[2001.8,1.27],[2001.87,1.05],[2001.92,0.9]];

const ledningsevne = [[1989.02,10.9],[1989.1,11.7],[1989.19,11.3],[1989.29,11.6],[1989.48,12.2],[1989.72,12.8],[1989.96,13.4],[1990.05,13.9],[1990.13,15.2],[1990.2,14.6],[1990.26,14.8],[1990.34,15.2],[1990.41,14.9],[1990.48,15.0],[1990.53,16.3],[1990.6,15.5],[1990.64,15.6],[1990.7,14.3],[1990.77,14.7],[1990.84,13.8],[1990.89,15.5],[1990.96,18.2],[1991.03,14.0],[1991.08,14.9],[1991.15,14.0],[1991.23,13.5],[1991.29,12.9],[1991.35,16.3],[1991.39,14.0],[1991.46,13.7],[1991.51,14.4],[1991.58,13.7],[1991.65,14.4],[1991.7,15.2],[1991.75,14.8],[1991.82,14.0],[1991.92,14.1],[1992.01,14.4],[1992.11,14.0],[1992.17,13.3],[1992.23,13.4],[1992.3,13.2],[1992.37,13.6],[1992.44,15.0],[1992.5,18.4],[1992.56,17.0],[1992.61,16.1],[1992.66,16.5],[1992.71,17.5],[1992.76,16.0],[1992.8,15.0],[1992.92,14.2],[1993.0,14.0],[1993.11,14.1],[1993.21,14.5],[1993.31,15.3],[1993.38,16.5],[1993.45,17.3],[1993.51,16.3],[1993.57,15.6],[1993.61,16.5],[1993.66,15.0],[1993.7,16.4],[1993.76,16.0],[1993.83,14.5],[1993.9,13.0],[1993.98,12.6],[1994.05,12.8],[1994.11,11.8],[1994.18,10.8],[1994.26,11.5],[1994.35,11.7],[1994.43,12.2],[1994.5,12.7],[1994.56,13.1],[1994.62,12.5],[1994.67,12.0],[1994.74,12.0],[1994.83,11.9],[1994.9,11.0],[1994.96,10.4],[1995.02,10.7],[1995.1,10.4],[1995.17,10.4],[1995.23,10.3],[1995.29,10.6],[1995.36,10.3],[1995.41,10.0],[1995.47,11.2],[1995.55,12.1],[1995.62,12.2],[1995.69,12.5],[1995.77,12.6],[1995.84,13.0],[1995.92,13.5],[1995.98,14.5],[1996.05,15.6],[1996.1,13.5],[1996.17,12.0],[1996.23,12.1],[1996.29,12.6],[1996.34,12.5],[1996.41,13.0],[1996.48,14.2],[1996.53,15.0],[1996.58,16.2],[1996.65,16.0],[1996.72,15.8],[1996.77,15.3],[1996.82,14.3],[1996.87,13.8],[1996.94,15.5],[1997.01,17.6],[1997.08,13.5],[1997.15,12.6],[1997.22,12.5],[1997.3,12.8],[1997.37,12.5],[1997.43,13.3],[1997.51,13.8],[1997.56,14.2],[1997.6,15.0],[1997.65,14.3],[1997.7,14.6],[1997.77,14.0],[1997.82,14.0],[1997.89,14.6],[1997.94,15.3],[1997.99,14.0],[1998.04,12.8],[1998.1,15.6],[1998.16,12.0],[1998.23,11.8],[1998.3,11.7],[1998.37,12.5],[1998.44,13.1],[1998.52,12.7],[1998.61,12.6],[1998.71,12.7],[1998.78,12.8],[1998.83,12.5],[1998.88,11.5],[1998.92,9.2],[1998.99,10.5],[1999.06,10.9],[1999.14,11.0],[1999.21,10.5],[1999.28,10.0],[1999.35,10.2],[1999.41,9.9],[1999.48,10.3],[1999.54,10.1],[1999.62,10.2],[1999.69,10.8],[1999.76,11.3],[1999.8,9.8],[1999.88,9.5],[1999.94,10.0],[2000.01,11.0],[2000.07,11.5],[2000.13,11.0],[2000.2,11.5],[2000.28,11.2],[2000.34,11.0],[2000.39,10.8],[2000.46,11.2],[2000.51,10.7],[2000.59,11.4],[2000.63,11.5],[2000.68,13.5],[2000.73,11.9],[2000.8,12.0],[2000.86,11.6],[2000.94,11.1],[2001.01,11.0],[2001.09,11.6],[2001.16,11.2],[2001.22,10.5],[2001.29,9.9],[2001.36,9.8],[2001.43,9.7],[2001.5,10.2],[2001.55,10.2],[2001.6,13.4],[2001.65,10.3],[2001.7,11.1],[2001.74,10.7],[2001.81,11.0],[2001.88,9.9],[2001.95,10.0],[2002.05,10.0]];

const farvetal = [[1992.58,100],[1992.62,65],[1992.67,90],[1992.72,65],[1992.77,62],[1992.84,60],[1992.94,60],[1993.0,62],[1993.06,65],[1993.13,50],[1993.21,55],[1993.28,60],[1993.34,50],[1993.39,38],[1993.45,30],[1993.5,35],[1993.54,20],[1993.6,20],[1993.65,35],[1993.71,42],[1993.76,45],[1993.83,30],[1993.88,45],[1993.94,40],[1994.0,45],[1994.07,55],[1994.15,55],[1994.22,47],[1994.3,47],[1994.36,45],[1994.44,40],[1994.51,32],[1994.59,40],[1994.66,64],[1994.7,50],[1994.75,56],[1994.83,57],[1994.93,53],[1995.03,53],[1995.12,45],[1995.22,37],[1995.3,37],[1995.37,32],[1995.43,35],[1995.51,45],[1995.59,58],[1995.64,52],[1995.69,85],[1995.72,110],[1995.77,60],[1995.83,62],[1995.88,65],[1995.95,13],[1996.02,55],[1996.07,55],[1996.14,50],[1996.21,40],[1996.29,25],[1996.37,24],[1996.43,20],[1996.48,35],[1996.53,22],[1996.6,55],[1996.68,70],[1996.75,83],[1996.82,80],[1996.89,75],[1996.94,53],[1997.02,54],[1997.09,53],[1997.14,36],[1997.3,null],[1997.44,21],[1997.5,40],[1997.6,70],[1997.67,95],[1997.73,98],[1997.8,85],[1997.86,60],[1997.94,45],[1998.04,30],[1998.13,18],[1998.2,11],[1998.25,22],[1998.33,24],[1998.41,25],[1998.48,30],[1998.55,30],[1998.6,40],[1998.67,42],[1998.74,40],[1998.82,48],[1998.89,52],[1998.94,57],[1999.01,43],[1999.09,55],[1999.16,38],[1999.23,47],[1999.31,45],[1999.39,50],[1999.45,48],[1999.5,16],[1999.55,35],[1999.61,50],[1999.69,62],[1999.79,70],[1999.88,78],[1999.96,72],[2000.05,62],[2000.15,60],[2000.22,60],[2000.3,45],[2000.37,35],[2000.44,34],[2000.52,45],[2000.57,40],[2000.64,72],[2000.7,70],[2000.77,62],[2000.81,67],[2000.88,52],[2000.94,57],[2001.0,60],[2001.07,63],[2001.15,55],[2001.22,45],[2001.29,40],[2001.36,30],[2001.41,38],[2001.46,30],[2001.54,45],[2001.62,60],[2001.68,82],[2001.75,90],[2001.83,75],[2001.9,65],[2001.97,58]];

const vandstand = [[1988.85,25.5],[1989.05,25.55],[1989.25,25.25],[1989.35,25.15],[1989.5,25.05],[1989.58,25.03],[1989.75,25.15],[1989.85,25.22],[1989.92,25.45],[1990.0,25.5],[1990.15,25.4],[1990.25,25.3],[1990.4,25.2],[1990.5,25.22],[1990.55,25.4],[1990.7,25.48],[1990.87,25.58],[1990.95,25.5],[1991.15,25.42],[1991.3,25.35],[1991.48,25.25],[1991.55,25.2],[1991.7,25.3],[1991.8,25.45],[1991.95,25.5],[1992.1,25.48],[1992.17,25.5],[1992.25,25.3],[1992.39,25.12],[1992.49,25.15],[1992.59,25.2],[1992.69,25.4],[1992.76,25.55],[1992.92,25.6],[1993.09,25.4],[1993.24,25.3],[1993.37,25.22],[1993.49,25.27],[1993.64,25.45],[1993.74,25.5],[1993.89,25.67],[1994.04,25.55],[1994.19,25.42],[1994.29,25.4],[1994.44,25.25],[1994.59,25.45],[1994.74,25.5],[1994.94,25.6],[1995.09,25.6],[1995.19,25.5],[1995.29,25.48],[1995.37,25.35],[1995.44,25.25],[1995.51,25.18],[1995.59,25.2],[1995.69,25.27],[1995.79,25.25],[1995.94,25.23],[1996.09,25.2],[1996.24,25.15],[1996.34,25.0],[1996.49,24.9],[1996.58,24.9],[1996.68,25.1],[1996.8,25.18],[1996.88,25.2],[1997.03,25.3],[1997.13,25.35],[1997.23,25.35],[1997.33,25.25],[1997.48,25.1],[1997.56,25.08],[1997.68,25.15],[1997.78,25.2],[1997.88,25.3],[1997.98,25.42],[1998.08,25.4],[1998.18,25.3],[1998.28,25.25],[1998.43,25.28],[1998.58,25.3],[1998.68,25.35],[1998.73,25.52],[1998.8,25.48],[1998.98,25.55],[1999.13,25.57],[1999.28,25.45],[1999.38,25.38],[1999.48,25.38],[1999.63,25.25],[1999.7,25.2],[1999.71,25.55],[1999.9,25.58],[2000.05,25.6],[2000.15,25.55],[2000.3,25.35],[2000.4,25.32],[2000.5,25.3],[2000.6,25.25],[2000.7,25.2],[2000.78,25.22],[2000.85,25.45],[2000.95,25.48],[2001.1,25.45],[2001.2,25.45],[2001.35,25.38],[2001.45,25.33],[2001.55,25.3],[2001.62,25.2],[2001.72,25.2],[2001.82,25.3],[2001.92,25.36]];

// Linjestile
const solid = { color: '#4a4a4a' };
const dotted = { color: '#8a8a8a', dash: [1.5, 3] };

// Placering af hvert delplot: box = [venstre, højre, top, bund] for plotområdet
const panels = [
  { title: 'Fosfor', yLabel: 'mg/l', y: [0, 0.2], yTicks: fosforTicks, box: [65, 612, 58, 251], titleY: 27, labelGap: 47, x: [1988.73, 2002.15],
    series: [{ data: totP, ...solid }, { data: ortoP, ...dotted }],
    legend: [{ label: 'Tot-P', ...solid }, { label: 'Orto-P', ...dotted }], legendX: 330, legendW: 70 },
  { title: 'Kvælstof', yLabel: 'mg/l', y: [0, 2.5], yTicks: kvaelstofTicks, box: [746, 1294, 57, 251], titleY: 27, labelGap: 50, x: [1988.76, 2002.12],
    series: [{ data: totalN, ...solid }, { data: uorgN, ...dotted }],
    legend: [{ label: 'Total-N', ...solid }, { label: 'Uorg. N', ...dotted }], legendX: 1008, legendW: 84 },
  { title: 'Klorofyl-a', yLabel: 'µg/l', y: [0, 250], yTicks: klorofylTicks, box: [62, 612, 367, 561], titleY: 335, labelGap: 44, x: [1988.77, 2002.26],
    series: [{ data: klorofyl, ...solid }] },
  { title: 'N/P', yLabel: '', y: [5, 50], yTicks: npTicks, box: [744, 1296, 368, 559], titleY: 335, labelGap: 40, x: [1988.78, 2002.06],
    series: [{ data: npRatio, ...solid }] },
  { title: 'Suspenderet stof', yLabel: 'mg/l', y: [0, 20], yTicks: suspTicks, box: [57, 612, 677, 869], titleY: 646, labelGap: 38, x: [1988.78, 2002.24],
    series: [{ data: suspStof, ...solid }] },
  { title: 'Alkalinitet', yLabel: 'mmol/l', y: [-0.05, 0.25], yTicks: alkTicks, box: [763, 1299, 678, 868], titleY: 646, labelGap: 55, x: [1988.78, 2002.17],
    series: [{ data: alkalinitet, ...solid }] },
  { title: 'Silikat-Si', yLabel: 'mg/l', y: [0, 1], yTicks: silikatTicks, box: [60, 612, 984, 1175], titleY: 952, labelGap: 42, x: [1988.83, 2002.13],
    series: [{ data: silikat, ...solid }] },
  { title: 'pH', yLabel: '', y: [4, 7.5], yTicks: phTicks, box: [748, 1298, 983, 1174], titleY: 954, labelGap: 40, x: [1988.79, 2002.11],
    series: [{ data: ph, ...solid }] },
  { title: 'Sigtdybde', yLabel: 'meter', y: [0, 2.5], yTicks: sigtTicks, box: [60, 612, 1297, 1488], titleY: 1265, labelGap: 42, x: [1988.83, 2002.13],
    series: [{ data: sigtdybde, ...solid }] },
  { title: 'Ledningsevne', yLabel: 'mS/m', y: [8, 20], yTicks: ledTicks, box: [742, 1298, 1296, 1486], titleY: 1267, labelGap: 36, x: [1988.81, 2002.1],
    series: [{ data: ledningsevne, ...solid }] },
  { title: 'Farvetal-Pt', yLabel: 'mg/l', y: [0, 120], yTicks: farveTicks, box: [61, 612, 1602, 1794], titleY: 1569, labelGap: 43, x: [1988.83, 2002.19],
    series: [{ data: farvetal, ...solid }] },
  { title: 'Vandstand', yLabel: 'm DNN', y: [24.5, 25.75], yTicks: vandTicks, yTickLabels: vandTickLabels, box: [754, 1292, 1593, 1797], titleY: 1568, labelGap: 52, x: [1988.6, 2002.02],
    series: [{ data: vandstand, color: '#6e6e6e' }], labelSize: 16 }
];

const FONT = "'Liberation Sans', Arial, Helvetica, sans-serif";
Chart.defaults.font.family = FONT;
Chart.defaults.color = '#2b2b2b';

const AXIS_W = 70;   // bredde af y-aksens område
const X_AXIS_H = 30; // højde af x-aksens område

// Ramme om plotområdet, indadvendte tick-streger og nul-linje
const framePlugin = {
  id: 'frame',
  afterDraw(chart) {
    const { ctx, chartArea: a, scales: { x, y } } = chart;
    ctx.save();
    ctx.strokeStyle = '#6a6a6a';
    ctx.lineWidth = 1;
    ctx.beginPath();
    x.ticks.forEach(t => {
      const px = Math.round(x.getPixelForValue(t.value)) + 0.5;
      ctx.moveTo(px, a.bottom); ctx.lineTo(px, a.bottom - 4);
    });
    y.ticks.forEach(t => {
      const py = Math.round(y.getPixelForValue(t.value)) + 0.5;
      ctx.moveTo(a.left, py); ctx.lineTo(a.left + 4, py);
    });
    if (y.min < 0 && y.max > 0) {
      const z = Math.round(y.getPixelForValue(0)) + 0.5;
      ctx.moveTo(a.left, z); ctx.lineTo(a.right, z);
    }
    ctx.stroke();
    ctx.strokeRect(Math.round(a.left) + 0.5, Math.round(a.top) + 0.5,
                   Math.round(a.right - a.left), Math.round(a.bottom - a.top));
    ctx.restore();
  }
};

// Lille signaturboks øverst i plottet
const boxLegend = {
  id: 'boxLegend',
  afterDraw(chart, args, opts) {
    if (!opts.items) return;
    const { ctx, chartArea: a } = chart;
    const w = opts.width, h = 36;
    const x0 = Math.round(opts.cx - w / 2) + 0.5;
    const y0 = Math.round(a.top + 8) + 0.5;
    ctx.save();
    ctx.fillStyle = '#fff';
    ctx.fillRect(x0, y0, w, h);
    ctx.strokeStyle = '#555';
    ctx.lineWidth = 1;
    ctx.strokeRect(x0, y0, w, h);
    ctx.font = '9px ' + FONT;
    ctx.textAlign = 'center';
    ctx.textBaseline = 'middle';
    opts.items.forEach((it, i) => {
      const cx = x0 + w * (i + 0.5) / opts.items.length;
      ctx.fillStyle = '#333';
      ctx.fillText(it.label, cx, y0 + 12);
      ctx.strokeStyle = it.color;
      ctx.setLineDash(it.dash || []);
      ctx.beginPath();
      ctx.moveTo(cx - 6, y0 + 25.5);
      ctx.lineTo(cx + 6, y0 + 25.5);
      ctx.stroke();
      ctx.setLineDash([]);
    });
    ctx.restore();
  }
};

const fmt = v => String(Math.round(v * 1000) / 1000);
const page = document.getElementById('page');

panels.forEach(p => {
  const [left, right, top, bottom] = p.box;
  const cLeft = left - AXIS_W;
  const cTop = p.titleY - 17;
  const w = right - left + AXIS_W + 10;
  const h = bottom - cTop + X_AXIS_H;
  const labelSize = p.labelSize || 15;

  const canvas = document.createElement('canvas');
  canvas.width = w;
  canvas.height = h;
  canvas.style.left = cLeft + 'px';
  canvas.style.top = cTop + 'px';
  canvas.style.width = w + 'px';
  canvas.style.height = h + 'px';
  page.appendChild(canvas);

  new Chart(canvas, {
    type: 'line',
    data: {
      datasets: p.series.map(s => ({
        data: s.data,
        borderColor: s.color,
        borderWidth: 1,
        borderDash: s.dash || [],
        pointRadius: 0,
        tension: 0,
        fill: false,
        spanGaps: false
      }))
    },
    options: {
      responsive: false,
      animation: false,
      devicePixelRatio: 1,
      layout: { padding: { left: 0, right: 10, top: 0, bottom: 0 } },
      plugins: {
        legend: { display: false },
        tooltip: { enabled: false },
        title: {
          display: true,
          text: p.title,
          color: '#3a3a3a',
          font: { size: 25, weight: 'normal' },
          padding: { top: 2, bottom: top - p.titleY - 17 }
        },
        boxLegend: { items: p.legend || null, cx: (p.legendX || 0) - cLeft, width: p.legendW || 70 }
      },
      scales: {
        x: {
          type: 'linear',
          min: p.x[0],
          max: p.x[1],
          afterBuildTicks: ax => { ax.ticks = yearTicks.map(v => ({ value: v })); },
          afterFit: ax => { ax.height = X_AXIS_H; },
          grid: { display: false, drawTicks: false },
          border: { display: false },
          ticks: { autoSkip: false, maxRotation: 0, padding: 5, color: '#222', font: { size: 15 }, callback: v => String(v) }
        },
        y: {
          type: 'linear',
          min: p.y[0],
          max: p.y[1],
          afterBuildTicks: ax => { ax.ticks = p.yTicks.map(v => ({ value: v })); },
          afterFit: ax => { ax.width = AXIS_W; },
          grid: { color: '#8c8c8c', lineWidth: 1, drawTicks: false },
          border: { display: false, dash: [2, 4] },
          ticks: {
            padding: 5, color: '#222', font: { size: labelSize },
            callback: (v, i) => p.yTickLabels ? p.yTickLabels[i] : fmt(v)
          },
          title: {
            display: !!p.yLabel,
            text: p.yLabel,
            color: '#2b2b2b',
            font: { size: labelSize },
            padding: { top: AXIS_W - p.labelGap - labelSize * 0.6, bottom: 0 }
          }
        }
      }
    },
    plugins: [framePlugin, boxLegend]
  });
});
</script>
</body>
</html>
